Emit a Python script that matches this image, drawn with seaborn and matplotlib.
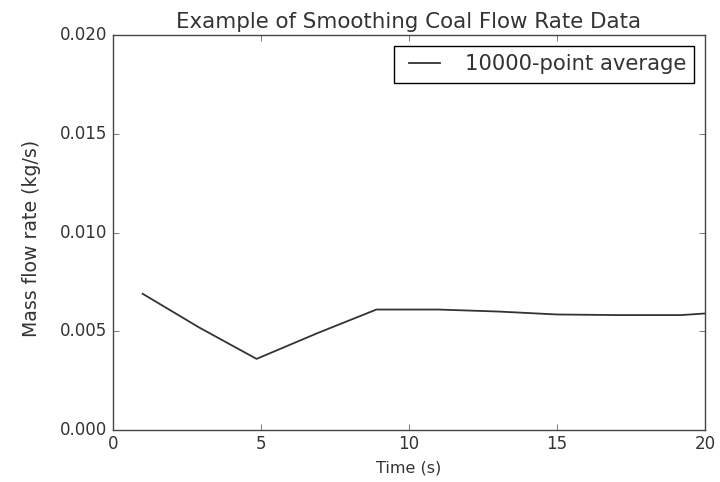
import matplotlib
matplotlib.use("Agg")
import matplotlib.pyplot as plt
import seaborn as sns
import pandas as pd

time_s = [1.0, 2.9, 4.85, 6.9, 8.9, 11.0, 13.0, 15.0, 17.0, 19.2, 20.0]
flow = [0.0069, 0.0052, 0.0036, 0.0049, 0.0061, 0.0061, 0.0060, 0.00585, 0.00582, 0.00582, 0.0059]
label = "10000-point average"

plt.style.use("classic")
plt.rcParams['font.family'] = ['DejaVu Sans']
txt = "#333333"
plt.rcParams['text.color'] = txt
plt.rcParams['xtick.color'] = "#444444"
plt.rcParams['ytick.color'] = "#444444"
plt.rcParams['axes.labelcolor'] = txt
plt.rcParams['axes.edgecolor'] = "#444444"

df = pd.DataFrame({"Time (s)": time_s, "Mass flow rate (kg/s)": flow, "series": label})

fig = plt.figure(figsize=(7.2, 4.82), dpi=100, facecolor="white")
ax = fig.add_axes([0.157, 0.108, 0.822, 0.819])
sns.lineplot(data=df, x="Time (s)", y="Mass flow rate (kg/s)", hue="series",
             palette=["#333333"], ax=ax, linewidth=1.3)
ax.set_xlim(0, 20)
ax.set_ylim(0, 0.02)
ax.set_xticks([0, 5, 10, 15, 20])
ax.set_yticks([0.0, 0.005, 0.010, 0.015, 0.020])
ax.set_yticklabels(["0.000", "0.005", "0.010", "0.015", "0.020"])
ax.tick_params(labelsize=12, labelcolor=txt)
ax.set_xlabel("Time (s)", fontsize=11.5)
ax.set_ylabel("Mass flow rate (kg/s)", fontsize=13.6)
ax.yaxis.set_label_coords(-0.122, 0.484)
ax.set_title("Example of Smoothing Coal Flow Rate Data", fontsize=15.4)
leg = ax.legend(loc="upper right", fontsize=15.2, frameon=True, fancybox=False,
                handlelength=2.1, handletextpad=0.85, borderaxespad=0.5)
leg.get_frame().set_edgecolor("black")
fig.savefig("out.png", dpi=100, facecolor="white")
